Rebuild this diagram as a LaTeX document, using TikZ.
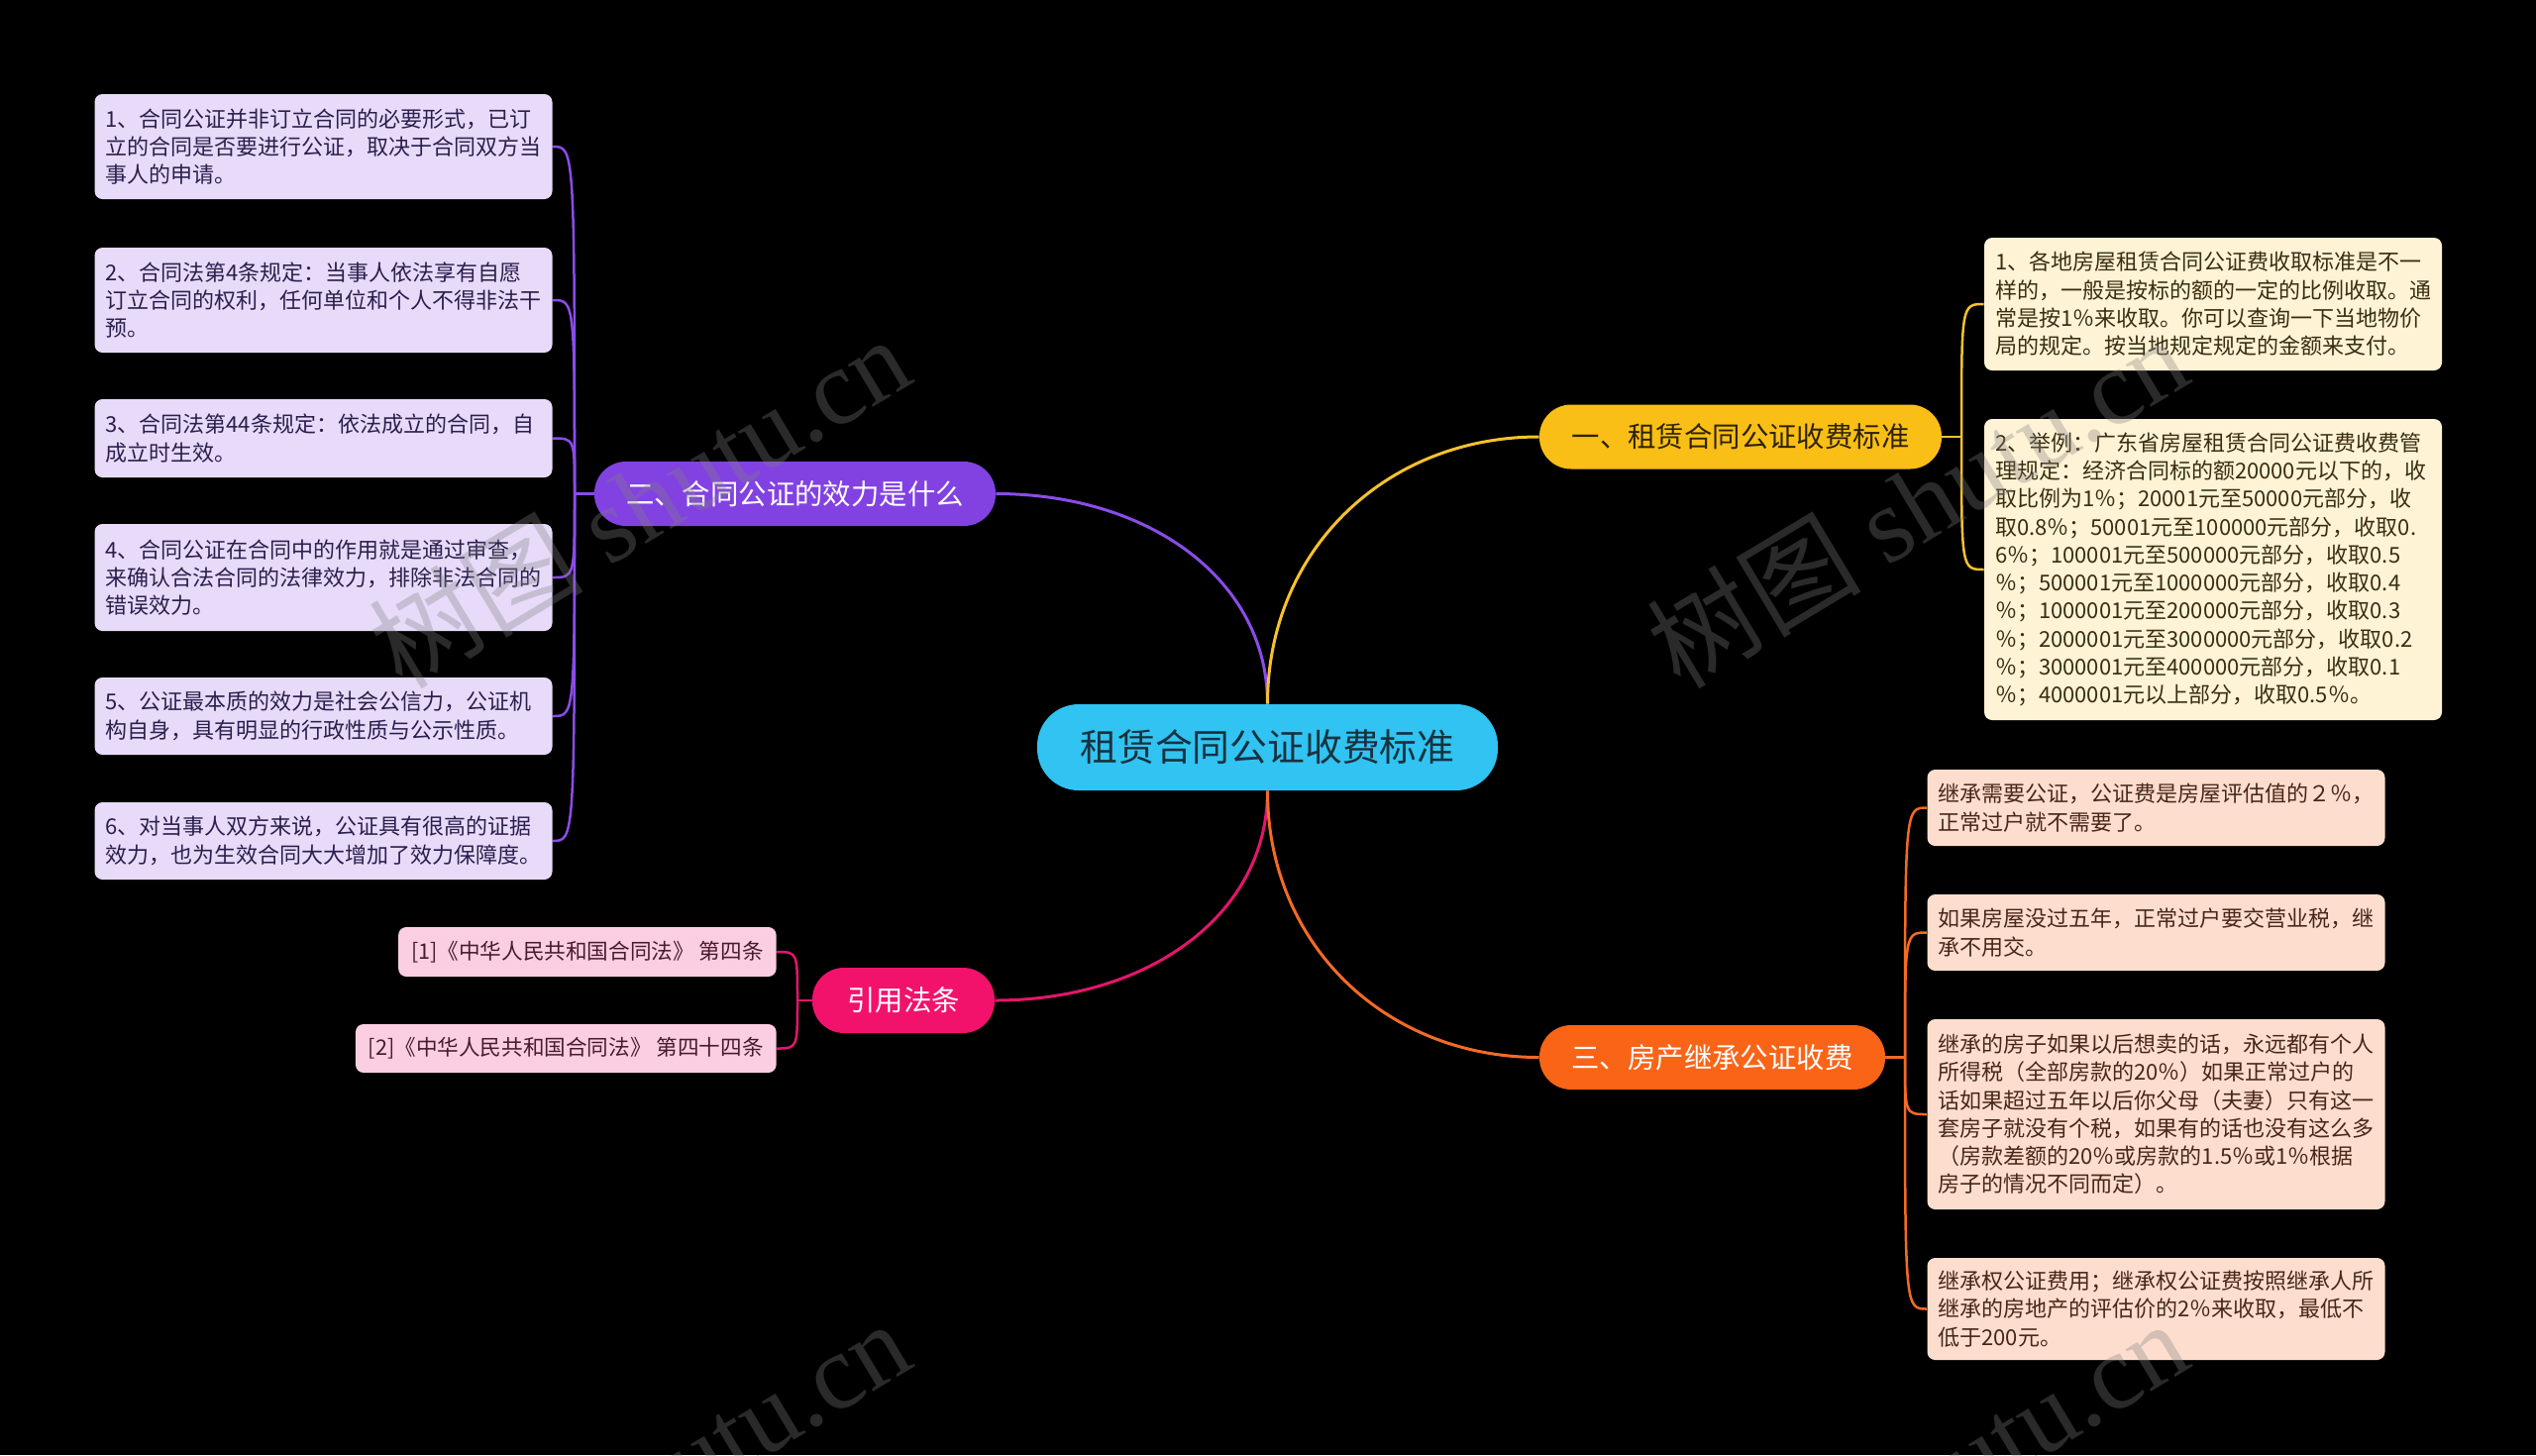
\documentclass[tikz,border=0pt]{standalone}
\usepackage{fontspec}
\newfontfamily\cjk{Noto Sans CJK SC}
\newfontfamily\wmserif{Liberation Serif}
\definecolor{bgc}{HTML}{000000}
\definecolor{cfill}{HTML}{31C3F1}
\definecolor{ctext}{HTML}{16323F}
\definecolor{yfill}{HTML}{FABF16}
\definecolor{ytext}{HTML}{2E2300}
\definecolor{pfill}{HTML}{8242E2}
\definecolor{ofill}{HTML}{FA6417}
\definecolor{kfill}{HTML}{F2126C}
\definecolor{ylin}{HTML}{F6C22C}
\definecolor{plin}{HTML}{8A4CE8}
\definecolor{olin}{HTML}{F36B26}
\definecolor{klin}{HTML}{E3166C}
\definecolor{lpf}{HTML}{E7DBF9}
\definecolor{lpt}{HTML}{2B1F4E}
\definecolor{lyf}{HTML}{FFF3D6}
\definecolor{lyt}{HTML}{3A2E10}
\definecolor{lof}{HTML}{FDDECE}
\definecolor{lot}{HTML}{4A2618}
\definecolor{lkf}{HTML}{FBCEE2}
\definecolor{lkt}{HTML}{4A1A2E}
\definecolor{wmc}{HTML}{808080}
\pgfdeclarelayer{bg}
\pgfsetlayers{bg,main}
\tikzset{
  leafbox/.style={rounded corners=4pt, inner xsep=5.5pt, inner ysep=0pt,
    text width=220pt, align=left, font=\cjk\fontsize{11pt}{14.15pt}\selectfont},
  leafP/.style={leafbox, fill=lpf, text=lpt},
  leafY/.style={leafbox, fill=lyf, text=lyt},
  leafO/.style={leafbox, fill=lof, text=lot},
  leafK/.style={rounded corners=4pt, inner xsep=6.5pt, inner ysep=0pt, anchor=east,
    fill=lkf, text=lkt, font=\cjk\fontsize{10.8pt}{14.15pt}\selectfont},
  branchbox/.style={rounded corners=16pt, inner sep=0pt, minimum height=32.5pt,
    font=\cjk\fontsize{14.2pt}{17pt}\selectfont},
  mainlink/.style={line width=1.5pt},
  leaflink/.style={line width=1.25pt},
  wmark/.style={text=wmc, text opacity=0.33, rotate=31, inner sep=0pt,
    font=\wmserif\fontsize{54pt}{60pt}\selectfont}
}
\begin{document}
\begin{tikzpicture}[x=0.5pt,y=-0.5pt]
\useasboundingbox (0,0) rectangle (2560,1469);
% central node
\node[fill=cfill, text=ctext, rounded corners=21pt, inner sep=0pt,
  minimum width=232.5pt, minimum height=43.5pt,
  font=\cjk\fontsize{18.9pt}{22pt}\selectfont] (c) at (1279.5,754.5) {租赁合同公证收费标准};
% branches
\node[branchbox, fill=yfill, text=ytext, minimum width=203pt] (b1) at (1757,441) {一、租赁合同公证收费标准};
\node[branchbox, fill=pfill, text=white, minimum width=202.5pt] (b2) at (802.5,498.5) {二、合同公证的效力是什么};
\node[branchbox, fill=ofill, text=white, minimum width=174.5pt] (b3) at (1728.5,1067.5) {三、房产继承公证收费};
\node[branchbox, fill=kfill, text=white, minimum width=92pt, minimum height=33pt] (b4) at (912,1010) {引用法条};
% left leaves
\node[leafP, minimum height=53pt] (p1) at (326.5,148) {1、合同公证并非订立合同的必要形式，已订\\立的合同是否要进行公证，取决于合同双方当\\事人的申请。};
\node[leafP, minimum height=53pt] (p2) at (326.5,303) {2、合同法第4条规定：当事人依法享有自愿\\订立合同的权利，任何单位和个人不得非法干\\预。};
\node[leafP, minimum height=39.5pt] (p3) at (326.5,442.5) {3、合同法第44条规定：依法成立的合同，自\\成立时生效。};
\node[leafP, minimum height=54pt] (p4) at (326.5,583) {4、合同公证在合同中的作用就是通过审查，\\来确认合法合同的法律效力，排除非法合同的\\错误效力。};
\node[leafP, minimum height=39pt] (p5) at (326.5,723) {5、公证最本质的效力是社会公信力，公证机\\构自身，具有明显的行政性质与公示性质。};
\node[leafP, minimum height=39pt] (p6) at (326.5,849) {6、对当事人双方来说，公证具有很高的证据\\效力，也为生效合同大大增加了效力保障度。};
% yellow leaves
\node[leafY, minimum height=67pt] (y1) at (2234,307) {1、各地房屋租赁合同公证费收取标准是不一\\样的，一般是按标的额的一定的比例收取。通\\常是按1％来收取。你可以查询一下当地物价\\局的规定。按当地规定规定的金额来支付。};
\node[leafY, minimum height=152pt] (y2) at (2234,575) {2、举例：广东省房屋租赁合同公证费收费管\\理规定：经济合同标的额20000元以下的，收\\取比例为1％；20001元至50000元部分，收\\取0.8％；50001元至100000元部分，收取0.\\6％；100001元至500000元部分，收取0.5\\％；500001元至1000000元部分，收取0.4\\％；1000001元至200000元部分，收取0.3\\％；2000001元至3000000元部分，收取0.2\\％；3000001元至400000元部分，收取0.1\\％；4000001元以上部分，收取0.5％。};
% orange leaves
\node[leafO, minimum height=38.5pt] (o1) at (2176.5,815.5) {继承需要公证，公证费是房屋评估值的２％，\\正常过户就不需要了。};
\node[leafO, minimum height=38.5pt] (o2) at (2176.5,941.5) {如果房屋没过五年，正常过户要交营业税，继\\承不用交。};
\node[leafO, minimum height=96pt] (o3) at (2176.5,1125) {继承的房子如果以后想卖的话，永远都有个人\\所得税（全部房款的20％）如果正常过户的\\话如果超过五年以后你父母（夫妻）只有这一\\套房子就没有个税，如果有的话也没有这么多\\（房款差额的20％或房款的1.5％或1％根据\\房子的情况不同而定）。};
\node[leafO, minimum height=51.5pt] (o4) at (2176.5,1321.5) {继承权公证费用；继承权公证费按照继承人所\\继承的房地产的评估价的2％来收取，最低不\\低于200元。};
% pink leaves
\node[leafK, minimum height=25pt] (k1) at (784,961) {[1]《中华人民共和国合同法》 第四条};
\node[leafK, minimum height=24.5pt] (k2) at (784,1058.5) {[2]《中华人民共和国合同法》 第四十四条};
% forks
\coordinate (fP) at (580,498.5);
\coordinate (fY) at (1980,441);
\coordinate (fO) at (1923,1067.5);
\coordinate (fK) at (805,1010);
\begin{pgfonlayer}{bg}
\fill[bgc] (0,0) rectangle (2560,1469);
% main links
\draw[mainlink, plin] (c.north) .. controls +(0,-125) and +(155,0) .. (b2.east);
\draw[mainlink, ylin] (c.north) .. controls +(0,-155) and +(-155,0) .. (b1.west);
\draw[mainlink, klin] (c.south) .. controls +(0,125) and +(155,0) .. (b4.east);
\draw[mainlink, olin] (c.south) .. controls +(0,155) and +(-155,0) .. (b3.west);
% purple leaf links
\draw[leaflink, plin] (b2.west) -- (fP);
\foreach \n in {p1,p2,p3,p4,p5,p6}{
  \draw[leaflink, plin] (fP) .. controls (fP |- \n.east) .. (\n.east);
}
% yellow leaf links
\draw[leaflink, ylin] (b1.east) -- (fY);
\foreach \n in {y1,y2}{
  \draw[leaflink, ylin] (fY) .. controls (fY |- \n.west) .. (\n.west);
}
% orange leaf links
\draw[leaflink, olin] (b3.east) -- (fO);
\foreach \n in {o1,o2,o3,o4}{
  \draw[leaflink, olin] (fO) .. controls (fO |- \n.west) .. (\n.west);
}
% pink leaf links
\draw[leaflink, klin] (b4.west) -- (fK);
\foreach \n in {k1,k2}{
  \draw[leaflink, klin] (fK) .. controls (fK |- \n.east) .. (\n.east);
}
\end{pgfonlayer}
% watermarks
\node[wmark] (wm1) at (645,506) {{\cjk 树图} shutu.cn};
\node[wmark] (wm2) at (1935,506) {{\cjk 树图} shutu.cn};
\node[wmark] (wm3) at (645,1500) {{\cjk 树图} shutu.cn};
\node[wmark] (wm4) at (1935,1500) {{\cjk 树图} shutu.cn};
\end{tikzpicture}
\end{document}
